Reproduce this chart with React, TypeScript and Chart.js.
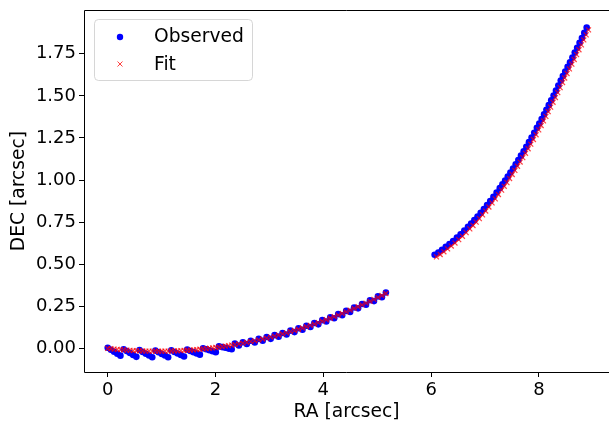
import React, { useEffect, useRef } from "react";
import { Chart, registerables } from "chart.js";

Chart.register(...registerables);

// ---- Data ----
const seriesNames = ["Observed", "Fit"];
const xLabel = "RA [arcsec]";
const yLabel = "DEC [arcsec]";
const xTicks = [0, 2, 4, 6, 8];
const yTicks = [0, 0.25, 0.5, 0.75, 1.0, 1.25, 1.5, 1.75];

// Segment 1 (RA 0 - 5.16): observed and fit share RA samples
const seg1RA = [
  0, 0.059, 0.118, 0.177, 0.236,
  0.295, 0.354, 0.413, 0.472, 0.531,
  0.590, 0.649, 0.708, 0.767, 0.826,
  0.885, 0.944, 1.003, 1.062, 1.121,
  1.180, 1.239, 1.298, 1.357, 1.416,
  1.475, 1.533, 1.592, 1.651, 1.710,
  1.769, 1.828, 1.887, 1.946, 2.005,
  2.064, 2.123, 2.182, 2.241, 2.300,
  2.359, 2.433, 2.507, 2.580, 2.654, 2.728, 2.802, 2.875, 2.949, 3.023,
  3.096, 3.170, 3.244, 3.318, 3.391, 3.465, 3.539, 3.613, 3.686, 3.760,
  3.834, 3.907, 3.981, 4.055, 4.129, 4.202, 4.276, 4.350, 4.424, 4.497,
  4.571, 4.645, 4.718, 4.792, 4.866, 4.940, 5.013, 5.087, 5.161,
];
const seg1ObsDEC = [
  0.004, -0.008, -0.020, -0.032, -0.043,
  -0.005, -0.016, -0.027, -0.039, -0.050,
  -0.010, -0.021, -0.032, -0.042, -0.052,
  -0.013, -0.023, -0.033, -0.042, -0.052,
  -0.011, -0.021, -0.030, -0.039, -0.048,
  -0.007, -0.015, -0.022, -0.030, -0.037,
  0.001, -0.005, -0.011, -0.017, -0.022,
  0.012, 0.008, 0.004, -0.001, -0.005,
  0.029, 0.017, 0.037, 0.026, 0.046, 0.035, 0.057, 0.046, 0.068, 0.057,
  0.079, 0.070, 0.092, 0.083, 0.106, 0.097, 0.120, 0.111, 0.135, 0.127,
  0.151, 0.143, 0.168, 0.160, 0.185, 0.179, 0.204, 0.197, 0.223, 0.217,
  0.243, 0.238, 0.264, 0.259, 0.286, 0.281, 0.309, 0.304, 0.332,
];
const seg1FitDEC = [
  0, -0.002, -0.0039, -0.0057, -0.0073,
  -0.0088, -0.0102, -0.0114, -0.0125, -0.0135,
  -0.0143, -0.015, -0.0156, -0.016, -0.0163,
  -0.0165, -0.0166, -0.0165, -0.0162, -0.0159,
  -0.0154, -0.0147, -0.014, -0.0131, -0.012,
  -0.0109, -0.0096, -0.0081, -0.0066, -0.0049,
  -0.0031, -0.0011, 0.001, 0.0032, 0.0056,
  0.0081, 0.0107, 0.0135, 0.0164, 0.0194,
  0.0226, 0.0267, 0.031, 0.0356, 0.0404, 0.0453, 0.0505, 0.0559, 0.0615, 0.0673,
  0.0733, 0.0795, 0.086, 0.0926, 0.0995, 0.1065, 0.1138, 0.1212, 0.1289, 0.1368,
  0.1449, 0.1532, 0.1617, 0.1704, 0.1793, 0.1885, 0.1978, 0.2074, 0.2171, 0.2271,
  0.2373, 0.2476, 0.2582, 0.269, 0.28, 0.2913, 0.3027, 0.3143, 0.3262,
];

// Segment 2 (RA 6.07 - 8.89)
const seg2ObsRA = [
  6.065, 6.134, 6.203, 6.272, 6.340, 6.409, 6.478, 6.547, 6.616, 6.684,
  6.743, 6.802, 6.861, 6.920, 6.979, 7.038, 7.097, 7.156, 7.215, 7.274,
  7.323, 7.373, 7.422, 7.471, 7.520, 7.569, 7.618, 7.667, 7.717, 7.766, 7.815, 7.864, 7.913, 7.962,
  8.007, 8.051, 8.095, 8.139, 8.183, 8.228, 8.272, 8.316, 8.360, 8.405,
  8.444, 8.488, 8.532, 8.577, 8.621, 8.665, 8.709, 8.754, 8.798, 8.842, 8.886,
];
const seg2ObsDEC = [
  0.556, 0.570, 0.586, 0.603, 0.620, 0.638, 0.658, 0.678, 0.700, 0.722,
  0.742, 0.762, 0.783, 0.805, 0.828, 0.852, 0.876, 0.900, 0.926, 0.952,
  0.975, 0.997, 1.021, 1.045, 1.069, 1.094, 1.119, 1.145, 1.171, 1.198, 1.225, 1.253, 1.281, 1.310,
  1.336, 1.363, 1.390, 1.418, 1.445, 1.474, 1.502, 1.531, 1.561, 1.591,
  1.618, 1.645, 1.672, 1.700, 1.728, 1.757, 1.786, 1.815, 1.844, 1.874, 1.906,
];
const seg2FitRA = [
  6.099, 6.168, 6.237, 6.306, 6.374, 6.443, 6.512, 6.581, 6.650, 6.718,
  6.777, 6.836, 6.895, 6.954, 7.013, 7.072, 7.131, 7.190, 7.249, 7.308,
  7.357, 7.407, 7.456, 7.505, 7.554, 7.603, 7.652, 7.701, 7.751, 7.800, 7.849, 7.898, 7.947, 7.996,
  8.041, 8.085, 8.129, 8.173, 8.217, 8.262, 8.306, 8.350, 8.394, 8.439,
  8.478, 8.522, 8.566, 8.611, 8.655, 8.699, 8.743, 8.788, 8.832, 8.876, 8.920,
];
const seg2FitDEC = [
  0.544, 0.558, 0.574, 0.591, 0.608, 0.626, 0.646, 0.666, 0.688, 0.710,
  0.730, 0.750, 0.771, 0.793, 0.816, 0.840, 0.864, 0.888, 0.914, 0.940,
  0.963, 0.985, 1.009, 1.033, 1.057, 1.082, 1.107, 1.133, 1.159, 1.186, 1.213, 1.241, 1.269, 1.298,
  1.324, 1.351, 1.378, 1.406, 1.433, 1.462, 1.490, 1.519, 1.549, 1.579,
  1.606, 1.633, 1.660, 1.688, 1.716, 1.745, 1.774, 1.803, 1.832, 1.862, 1.892,
];

const obsRA = [...seg1RA, ...seg2ObsRA];
const obsDEC = [...seg1ObsDEC, ...seg2ObsDEC];
const fitRA = [...seg1RA, ...seg2FitRA];
const fitDEC = [...seg1FitDEC, ...seg2FitDEC];

const FONT = "'DejaVu Sans', 'Liberation Sans', sans-serif";
const BLUE = "#0000ff";
const RED = "rgba(255,0,0,0.75)";

export default function App() {
  const ref = useRef<HTMLCanvasElement | null>(null);

  useEffect(() => {
    const canvas = ref.current;
    if (!canvas) return;

    const framePlugin = {
      id: "frameBox",
      afterDatasetsDraw(chart: any) {
        const { ctx, chartArea: a } = chart;
        ctx.save();
        ctx.strokeStyle = "#000";
        ctx.lineWidth = 1;
        const l = Math.round(a.left) + 0.5;
        const t = Math.round(a.top) + 0.5;
        const r = chart.width;
        const b = Math.round(a.bottom) + 0.5;
        ctx.beginPath();
        ctx.moveTo(r, t);
        ctx.lineTo(l, t);
        ctx.lineTo(l, b);
        ctx.lineTo(r, b);
        ctx.stroke();
        ctx.restore();
      },
    };

    const legendPlugin = {
      id: "innerLegend",
      afterDraw(chart: any) {
        const { ctx } = chart;
        ctx.save();
        const x = 94.5, y = 19.5, w = 158, h = 61, rad = 4;
        ctx.beginPath();
        ctx.moveTo(x + rad, y);
        ctx.lineTo(x + w - rad, y);
        ctx.quadraticCurveTo(x + w, y, x + w, y + rad);
        ctx.lineTo(x + w, y + h - rad);
        ctx.quadraticCurveTo(x + w, y + h, x + w - rad, y + h);
        ctx.lineTo(x + rad, y + h);
        ctx.quadraticCurveTo(x, y + h, x, y + h - rad);
        ctx.lineTo(x, y + rad);
        ctx.quadraticCurveTo(x, y, x + rad, y);
        ctx.closePath();
        ctx.fillStyle = "rgba(255,255,255,0.8)";
        ctx.fill();
        ctx.strokeStyle = "rgba(204,204,204,0.8)";
        ctx.lineWidth = 1;
        ctx.stroke();

        // Observed marker
        ctx.beginPath();
        ctx.arc(120, 37, 3.2, 0, Math.PI * 2);
        ctx.fillStyle = BLUE;
        ctx.fill();
        // Fit marker (x)
        ctx.beginPath();
        ctx.moveTo(117.5, 61.5);
        ctx.lineTo(122.5, 66.5);
        ctx.moveTo(122.5, 61.5);
        ctx.lineTo(117.5, 66.5);
        ctx.strokeStyle = RED;
        ctx.lineWidth = 1;
        ctx.stroke();

        ctx.fillStyle = "#000";
        ctx.font = `18.7px ${FONT}`;
        ctx.textBaseline = "middle";
        ctx.textAlign = "left";
        ctx.fillText(seriesNames[0], 154, 37);
        ctx.fillText(seriesNames[1], 154, 65);
        ctx.restore();
      },
    };

    const chart = new Chart(canvas, {
      type: "scatter",
      data: {
        datasets: [
          {
            label: seriesNames[0],
            data: obsRA.map((v, i) => ({ x: v, y: obsDEC[i] })),
            backgroundColor: BLUE,
            borderColor: BLUE,
            borderWidth: 0,
            pointRadius: 3.3,
            pointStyle: "circle",
            order: 1,
          },
          {
            label: seriesNames[1],
            data: fitRA.map((v, i) => ({ x: v, y: fitDEC[i] })),
            backgroundColor: RED,
            borderColor: RED,
            borderWidth: 1.2,
            pointRadius: 3.5,
            pointStyle: "crossRot",
            order: 0,
          },
        ],
      },
      options: {
        responsive: false,
        animation: false,
        devicePixelRatio: 1,
        layout: { autoPadding: false, padding: { top: 10, right: 0, left: 0, bottom: 0 } },
        plugins: {
          legend: { display: false },
          tooltip: { enabled: false },
        },
        scales: {
          x: {
            type: "linear",
            min: -0.44,
            max: 9.3,
            border: { display: false },
            grid: {
              drawOnChartArea: false,
              drawTicks: true,
              tickLength: 5,
              color: "#000",
            },
            afterBuildTicks: (s: any) => {
              s.ticks = xTicks.map((v) => ({ value: v }));
            },
            afterFit: (s: any) => {
              s.height = 49;
              s.paddingLeft = 0;
              s.paddingRight = 0;
            },
            ticks: {
              autoSkip: false,
              maxRotation: 0,
              padding: 3,
              color: "#000",
              font: { family: FONT, size: 18 },
              callback: (v: any) => String(v),
            },
            title: {
              display: true,
              text: xLabel,
              color: "#000",
              font: { family: FONT, size: 18.7, lineHeight: 0.9 },
              padding: { top: 0, bottom: 0 },
            },
          },
          y: {
            type: "linear",
            min: -0.14,
            max: 2.01,
            border: { display: false },
            grid: {
              drawOnChartArea: false,
              drawTicks: true,
              tickLength: 5,
              color: "#000",
            },
            afterBuildTicks: (s: any) => {
              s.ticks = yTicks.map((v) => ({ value: v }));
            },
            afterFit: (s: any) => {
              s.width = 84;
              s.paddingTop = 0;
              s.paddingBottom = 0;
            },
            ticks: {
              autoSkip: false,
              padding: 3,
              color: "#000",
              font: { family: FONT, size: 18 },
              callback: (v: any) => Number(v).toFixed(2),
            },
            title: {
              display: true,
              text: yLabel,
              color: "#000",
              font: { family: FONT, size: 18.7 },
              padding: { top: 8, bottom: 0 },
            },
          },
        },
      },
      plugins: [framePlugin, legendPlugin],
    });

    return () => chart.destroy();
  }, []);

  return (
    <div style={{ position: "absolute", left: 0, top: 0, width: 609, height: 421, background: "#fff" }}>
      <canvas ref={ref} width={609} height={421} style={{ display: "block" }} />
    </div>
  );
}
